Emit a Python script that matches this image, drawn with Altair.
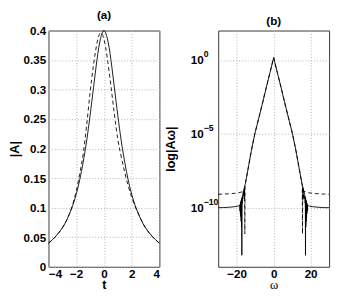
import altair as alt
import pandas as pd

# ---------- panel (a): |A| versus t ----------
t_solid = [-4, -3.75, -3.5, -3.25, -3, -2.75, -2.5, -2.25, -2, -1.75, -1.5, -1.25,
           -1, -0.875, -0.75, -0.625, -0.5, -0.375, -0.25, -0.125, 0,
           0.125, 0.25, 0.375, 0.5, 0.625, 0.75, 0.875, 1,
           1.25, 1.5, 1.75, 2, 2.25, 2.5, 2.75, 3, 3.25, 3.5, 3.75, 4]
a_solid = [0.040, 0.045, 0.051, 0.058, 0.066, 0.076, 0.089, 0.104, 0.123, 0.147, 0.177, 0.213,
           0.256, 0.280, 0.304, 0.328, 0.351, 0.371, 0.386, 0.396, 0.400,
           0.396, 0.386, 0.371, 0.351, 0.328, 0.304, 0.280, 0.256,
           0.213, 0.177, 0.147, 0.123, 0.104, 0.089, 0.076, 0.066, 0.058, 0.051, 0.045, 0.040]

t_dash = [-4, -3.5, -3, -2.5, -2.25, -2, -1.75, -1.5, -1.25, -1, -0.75, -0.5, -0.375,
          -0.25, -0.125, 0, 0.125, 0.25, 0.375, 0.5, 0.75, 1, 1.25, 1.5, 1.75, 2,
          2.25, 2.5, 3, 3.5, 4]
a_dash = [0.040, 0.051, 0.066, 0.089, 0.106, 0.128, 0.157, 0.191, 0.239, 0.295, 0.342, 0.379, 0.391,
          0.396, 0.394, 0.385, 0.371, 0.352, 0.330, 0.307, 0.259, 0.216, 0.186, 0.160, 0.137, 0.118,
          0.102, 0.089, 0.066, 0.051, 0.040]

# ---------- panel (b): log|A_w| versus w ----------
w_solid = [-30, -27, -24, -21, -19.5, -18.6, -18.3,
           -18.2, -18.1, -18.0, -17.9, -17.8, -17.7, -17.6, -17.5, -17.4, -17.3, -17.22,
           -17.15, -17.05, -16.95, -16.85, -16.75,
           -16.5, -15.3, -13.6, -12, -10.2, -8, -6, -4, -2, 0,
           2, 4, 6, 8, 10.2, 12, 13.6, 15.3, 16.5,
           16.75, 16.85, 16.95, 17.05, 17.15, 17.22, 17.3, 17.4, 17.5, 17.6, 17.7, 17.8,
           17.9, 18.0, 18.1, 18.2,
           18.3, 18.6, 19.5, 21, 24, 27, 30]
b_solid = [1.0e-10, 1.03e-10, 1.08e-10, 1.18e-10, 1.28e-10, 1.36e-10, 1.4e-10,
           6e-11, 1.8e-10, 4e-11, 2.2e-10, 2.5e-11, 2.7e-10, 1.2e-11, 3.3e-10, 5e-12, 4.0e-10, 6e-14,
           4.8e-10, 2e-10, 6e-10, 4e-10, 8e-10,
           1.1e-9, 4.3e-9, 6.3e-8, 8e-7, 1e-5, 1.26e-4, 1.26e-3, 1.4e-2, 0.14, 1.45,
           0.14, 1.4e-2, 1.26e-3, 1.26e-4, 1e-5, 8e-7, 6.3e-8, 4.3e-9, 1.1e-9,
           8e-10, 4e-10, 6e-10, 2e-10, 4.8e-10, 6e-14, 4.0e-10, 5e-12, 3.3e-10, 1.2e-11, 2.7e-10, 2.5e-11,
           2.2e-10, 4e-11, 1.8e-10, 6e-11,
           1.4e-10, 1.36e-10, 1.28e-10, 1.18e-10, 1.08e-10, 1.03e-10, 1.0e-10]

w_dash = [-30, -27, -24, -21, -19, -17.5, -16.3,
          -16.2, -16.1, -16.0, -15.9, -15.8, -15.7, -15.6, -15.5,
          -15.3, -13.6, -12, -10.2, -8, -6, -4, -2, 0,
          2, 4, 6, 8, 10.2, 12, 13.6, 15.3,
          15.5, 15.6, 15.7, 15.8, 15.9, 16.0, 16.1, 16.2,
          16.3, 17.5, 19, 21, 24, 27, 30]
b_dash = [8.1e-10, 8.4e-10, 8.8e-10, 9.5e-10, 1.03e-9, 1.15e-9, 1.3e-9,
          5e-10, 1.6e-9, 4e-10, 2e-9, 3e-10, 2.6e-9, 1.7e-12, 3.3e-9,
          4.3e-9, 6.3e-8, 8e-7, 1e-5, 1.26e-4, 1.26e-3, 1.4e-2, 0.14, 1.45,
          0.14, 1.4e-2, 1.26e-3, 1.26e-4, 1e-5, 8e-7, 6.3e-8, 4.3e-9,
          3.3e-9, 1.7e-12, 2.6e-9, 3e-10, 2e-9, 4e-10, 1.6e-9, 5e-10,
          1.3e-9, 1.15e-9, 1.03e-9, 9.5e-10, 8.8e-10, 8.4e-10, 8.1e-10]

a_xticks = [-4, -2, 0, 2, 4]
a_yticks = [0, 0.05, 0.1, 0.15, 0.2, 0.25, 0.3, 0.35, 0.4]
b_xticks = [-20, 0, 20]
b_yticks = [1e-10, 1e-5, 1]
b_yexp = ["−10", "−5", "0"]

FONT = "Liberation Sans"


def frame(x, y):
    return pd.DataFrame({"x": x, "y": y, "i": list(range(len(x)))})


ax_a_x = alt.X("x:Q", scale=alt.Scale(domain=[-4, 4], nice=False, zero=False),
               axis=alt.Axis(values=a_xticks, title="t", format="~g"))
ax_a_y = alt.Y("y:Q", scale=alt.Scale(domain=[0, 0.4], nice=False),
               axis=alt.Axis(values=a_yticks, title="|A|", format="~g"))

la1 = alt.Chart(frame(t_solid, a_solid)).mark_line(
    color="black", strokeWidth=0.9, interpolate="monotone").encode(
    x=ax_a_x, y=ax_a_y, order="i:Q")
la2 = alt.Chart(frame(t_dash, a_dash)).mark_line(
    color="black", strokeWidth=0.9, strokeDash=[4, 3], interpolate="monotone").encode(
    x=ax_a_x, y=ax_a_y, order="i:Q")

panel_a = alt.layer(la1, la2).properties(
    width=115, height=245,
    title=alt.TitleParams("(a)", font=FONT, fontSize=12, fontWeight="bold", offset=3))

ax_b_x = alt.X("x:Q", scale=alt.Scale(domain=[-30, 30], nice=False, zero=False),
               axis=alt.Axis(values=b_xticks, title="ω", titleFont="Liberation Serif",
                             titleFontWeight="normal", titleFontSize=13))
ax_b_y = alt.Y("y:Q", scale=alt.Scale(type="log", domain=[1e-14, 1e2], nice=False),
               axis=alt.Axis(values=b_yticks, title="log|Aω|",
                             labelExpr="'10'", labelAlign="left", labelPadding=29,
                             titleX=-42, titleY=122.5))

lb1 = alt.Chart(frame(w_solid, b_solid)).mark_line(
    color="black", strokeWidth=0.9).encode(x=ax_b_x, y=ax_b_y, order="i:Q")
lb2 = alt.Chart(frame(w_dash, b_dash)).mark_line(
    color="black", strokeWidth=0.9, strokeDash=[4, 3]).encode(x=ax_b_x, y=ax_b_y, order="i:Q")
lb_exp = alt.Chart(pd.DataFrame({"y": b_yticks, "e": b_yexp})).mark_text(
    font=FONT, fontSize=9, fontWeight="bold", align="left", baseline="middle",
    dy=-6, color="black").encode(x=alt.value(-15), y=ax_b_y, text="e:N")

panel_b = alt.layer(lb1, lb2, lb_exp).properties(
    width=115, height=245,
    title=alt.TitleParams("(b)", font=FONT, fontSize=12, fontWeight="bold", offset=3))

chart = alt.hconcat(panel_a, panel_b, spacing=61, bounds="flush").properties(
    padding={"left": 0, "top": -5, "right": 0, "bottom": 0}
).configure_view(
    stroke="#333333", strokeWidth=1
).configure_axis(
    labelFont=FONT, labelFontSize=12, labelFontWeight="bold", labelColor="black",
    titleFont=FONT, titleFontSize=13, titleFontWeight="bold", titleColor="black",
    domain=False, ticks=False, labelPadding=3, titlePadding=2,
    grid=True, gridColor="#b0b0b0", gridDash=[1, 2], gridWidth=1
).configure_axisX(labelPadding=2, titlePadding=0)

chart.save("out.html", embed_options={"renderer": "svg", "actions": False})
